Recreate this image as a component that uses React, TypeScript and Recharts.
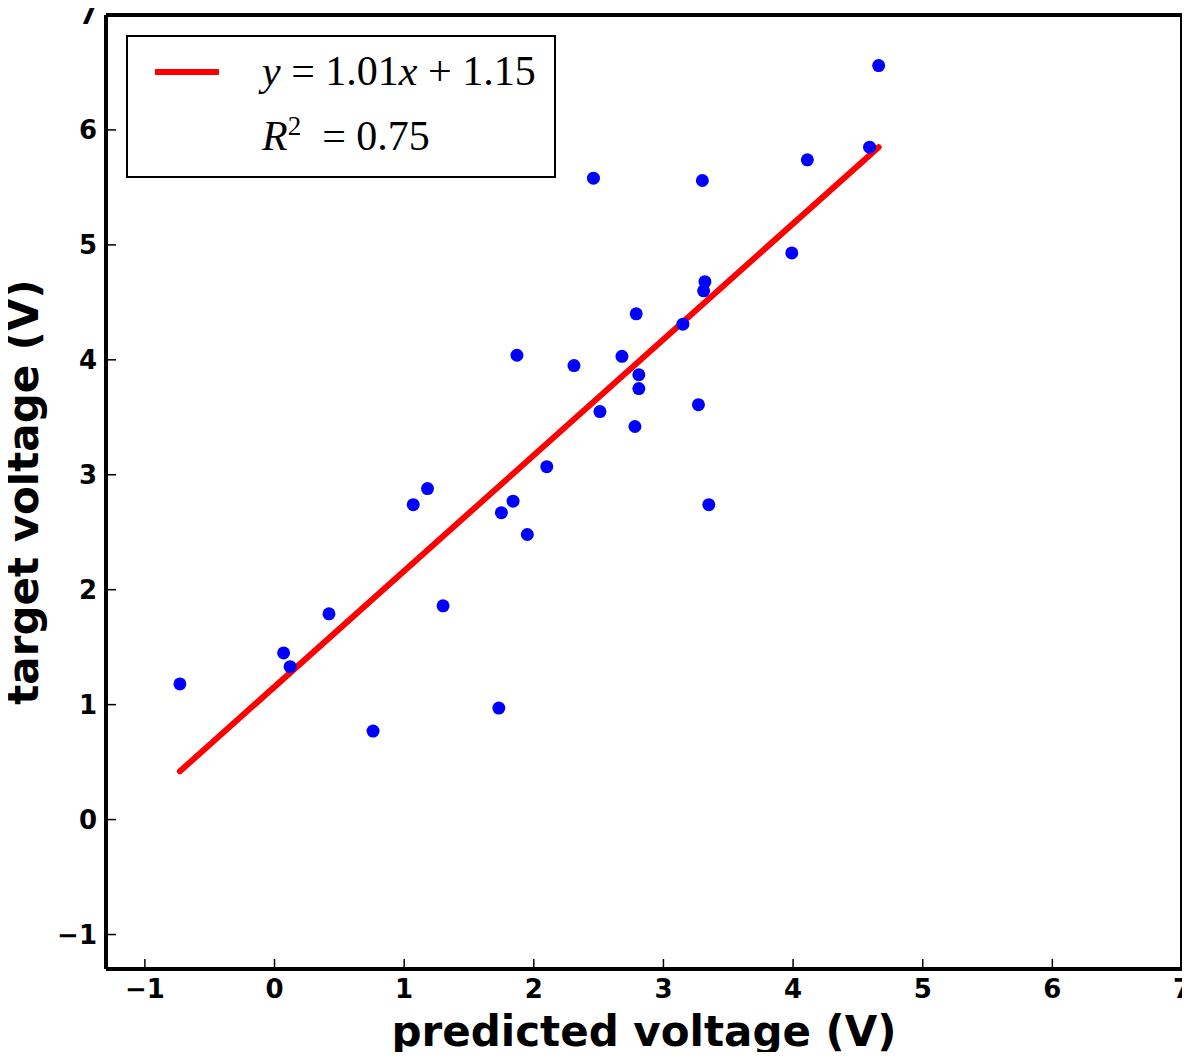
import React from 'react';
import { ComposedChart, Scatter, Line, XAxis, YAxis, ReferenceLine } from 'recharts';

// predicted voltage (x) vs target voltage (y)
const predicted = [
  -0.73, 0.07, 0.12, 0.42, 0.76, 1.07, 1.18, 1.3, 1.73, 1.75, 1.84, 1.87, 1.95, 2.1, 2.31, 2.46,
  2.51, 2.68, 2.78, 2.79, 2.81, 2.81, 3.15, 3.27, 3.3, 3.31, 3.32, 3.35, 3.99, 4.11, 4.59, 4.66,
];
const target = [
  1.18, 1.45, 1.33, 1.79, 0.77, 2.74, 2.88, 1.86, 0.97, 2.67, 2.77, 4.04, 2.48, 3.07, 3.95, 5.58,
  3.55, 4.03, 3.42, 4.4, 3.87, 3.75, 4.31, 3.61, 5.56, 4.6, 4.68, 2.74, 4.93, 5.74, 5.85, 6.56,
];

// fitted line endpoints as drawn
const fitX = [-0.73, 4.66];
const fitY = [0.42, 5.85];

const ticks = [-1, 0, 1, 2, 3, 4, 5, 6, 7];
const domain: [number, number] = [-1.3, 7];

const points = predicted.map((x, i) => ({ x, y: target[i] }));
const fitLine = fitX.map((x, i) => ({ x, y: fitY[i] }));

const FONT = '"DejaVu Sans", sans-serif';
const MATH = '"Liberation Serif", "DejaVu Serif", serif';
const tickStyle = { fill: '#000', fontSize: 26, fontWeight: 'bold' as const, fontFamily: FONT };
const axisLine = { stroke: '#000', strokeWidth: 4 };
const tickLine = { stroke: '#000', strokeWidth: 1.5 };
const fmt = (v: number) => (v < 0 ? '\u2212' + Math.abs(v) : String(v));

const Dot = (props: any) => <circle cx={props.cx} cy={props.cy} r={6.5} fill="#0000ff" />;

export default function App() {
  return (
    <div style={{ position: 'relative', width: 1190, height: 1060, margin: -8, background: '#fff' }}>
      <ComposedChart width={1190} height={1060} margin={{ top: 14, right: 7, bottom: 0, left: 0 }}>
        <XAxis
          xAxisId={0}
          type="number"
          dataKey="x"
          domain={domain}
          ticks={ticks}
          tickFormatter={fmt}
          allowDataOverflow
          height={91}
          axisLine={axisLine}
          tickLine={tickLine}
          tickSize={-10}
          tickMargin={21}
          tick={tickStyle}
          label={{
            value: 'predicted voltage (V)',
            position: 'insideBottom',
            offset: 14,
            style: { fill: '#000', fontSize: 42, fontWeight: 'bold', fontFamily: FONT },
          }}
        />
        <XAxis
          xAxisId="top"
          orientation="top"
          type="number"
          domain={domain}
          ticks={ticks}
          allowDataOverflow
          height={1}
          axisLine={axisLine}
          tickLine={tickLine}
          tickSize={-10}
          tick={false}
        />
        <YAxis
          yAxisId={0}
          type="number"
          dataKey="y"
          domain={domain}
          ticks={ticks}
          tickFormatter={fmt}
          allowDataOverflow
          width={106}
          axisLine={axisLine}
          tickLine={tickLine}
          tickSize={-10}
          tickMargin={19}
          tick={tickStyle}
          label={{
            value: 'target voltage (V)',
            angle: -90,
            position: 'insideLeft',
            offset: 23,
            style: { fill: '#000', fontSize: 42, fontWeight: 'bold', fontFamily: FONT, textAnchor: 'middle' },
          }}
        />
        <YAxis
          yAxisId="right"
          orientation="right"
          type="number"
          domain={domain}
          ticks={ticks}
          allowDataOverflow
          width={1}
          axisLine={axisLine}
          tickLine={tickLine}
          tickSize={-10}
          tick={false}
        />
        <ReferenceLine y={7} stroke="#000" strokeWidth={4} />
        <ReferenceLine x={7} stroke="#000" strokeWidth={4} />
        <Scatter data={points} dataKey="y" shape={Dot} isAnimationActive={false} />
        <Line
          data={fitLine}
          dataKey="y"
          type="linear"
          stroke="#ff0000"
          strokeWidth={6}
          strokeLinecap="round"
          dot={false}
          activeDot={false}
          isAnimationActive={false}
        />
      </ComposedChart>
      <div
        style={{
          position: 'absolute',
          left: 126,
          top: 35,
          width: 426,
          height: 139,
          border: '2px solid #000',
          background: '#fff',
          fontFamily: MATH,
          fontSize: 42,
          color: '#000',
        }}
      >
        <div style={{ position: 'absolute', left: 27, top: 32, width: 64, height: 6, background: '#ff0000' }} />
        <div style={{ position: 'absolute', left: 134, top: 10, whiteSpace: 'nowrap' }}>
          <i>y</i> = 1.01<i>x</i> + 1.15
        </div>
        <div style={{ position: 'absolute', left: 134, top: 74, whiteSpace: 'nowrap' }}>
          <i>R</i>
          <sup style={{ fontSize: 27 }}>2</sup>&nbsp; = 0.75
        </div>
      </div>
    </div>
  );
}
